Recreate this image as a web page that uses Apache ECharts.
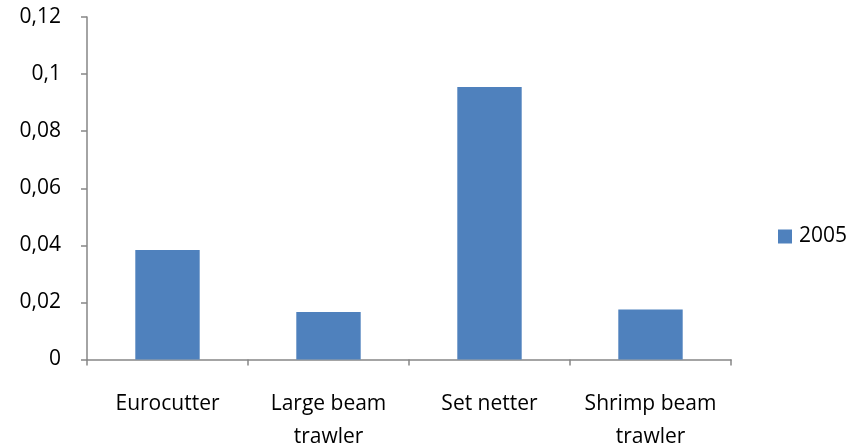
<!DOCTYPE html>
<html><head><meta charset="utf-8">
<script src="https://cdn.jsdelivr.net/npm/echarts@6/dist/echarts.min.js"></script>
<style>html,body{margin:0;padding:0;background:#fff}#c{width:851px;height:448px}</style>
</head><body><div id="c"></div>
<script>
const categories = ['Eurocutter', 'Large beam\ntrawler', 'Set netter', 'Shrimp beam\ntrawler'];
const seriesName = '2005';
const values2005 = [0.0384, 0.0166, 0.0955, 0.0175];
const yTicks = { min: 0, max: 0.12, interval: 0.02 };

const chart = echarts.init(document.getElementById('c'));
const font = 'Open Sans';
chart.setOption({
  animation: false,
  grid: { left: 87, right: 120, top: 17, bottom: 88.5, containLabel: false, outerBoundsMode: 'none' },
  legend: {
    data: [seriesName], orient: 'vertical', left: 773, top: 221,
    itemWidth: 14, itemHeight: 14, itemGap: 6,
    icon: 'rect',
    textStyle: { fontFamily: font, fontSize: 21, color: '#000', padding: [0, 0, 0, 2] }
  },
  xAxis: {
    type: 'category', data: categories,
    axisLine: { lineStyle: { color: '#868686', width: 1.5 } },
    axisTick: { show: true, length: 6, lineStyle: { color: '#868686', width: 1.5 } },
    axisLabel: { margin: 28, interval: 0, fontFamily: font, fontSize: 21, color: '#000', lineHeight: 33 }
  },
  yAxis: {
    type: 'value', min: yTicks.min, max: yTicks.max, interval: yTicks.interval,
    axisLine: { show: true, lineStyle: { color: '#868686', width: 1.5 } },
    axisTick: { show: true, length: 6, lineStyle: { color: '#868686', width: 1.5 } },
    splitLine: { show: false },
    axisLabel: {
      margin: 26, fontFamily: font, fontSize: 21, color: '#000',
      formatter: v => (Math.round(v * 1000) / 1000).toString().replace('.', ',')
    }
  },
  series: [{
    name: seriesName, type: 'bar', data: values2005, barWidth: '40%',
    itemStyle: { color: '#4F81BD' }
  }]
});
</script></body></html>
